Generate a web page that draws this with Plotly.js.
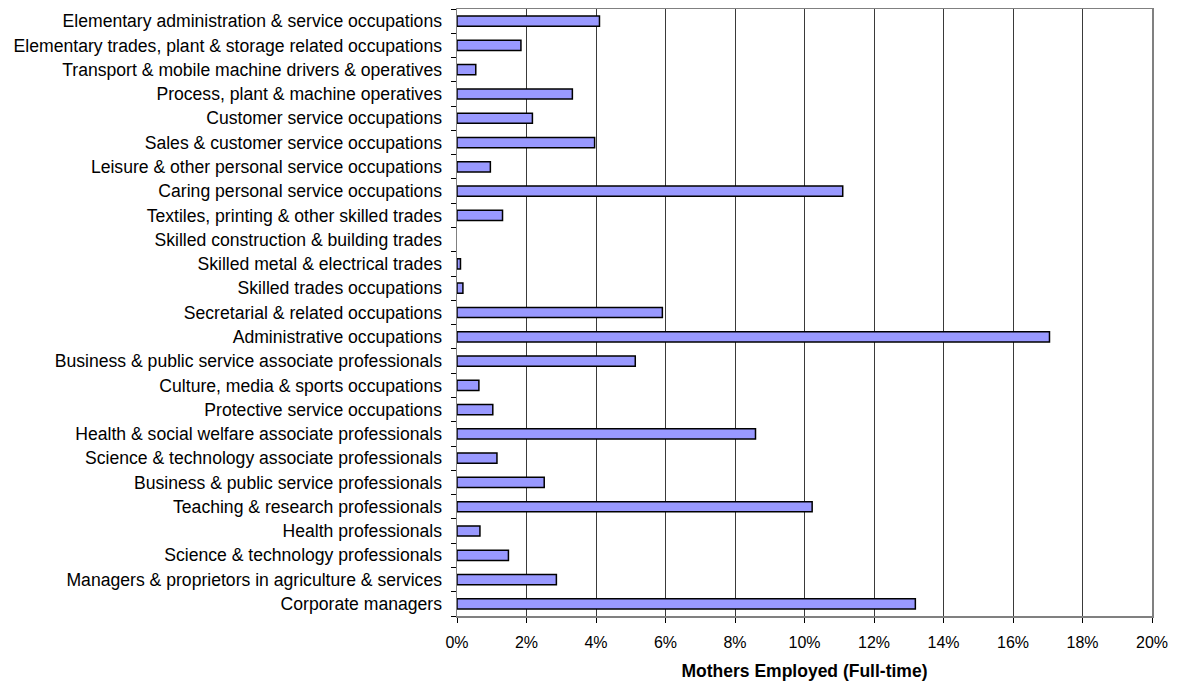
<!DOCTYPE html>
<html>
<head>
<meta charset="utf-8">
<script src="https://cdn.plot.ly/plotly-3.0.1.min.js"></script>
<style>
  html, body { margin: 0; padding: 0; background: #fff; }
  #chart { width: 1181px; height: 683px; }
</style>
</head>
<body>
<div id="chart"></div>
<script>
// Occupation groups, listed from the bottom of the chart upwards
const occupations = [
  "Corporate managers",
  "Managers & proprietors in agriculture & services",
  "Science & technology professionals",
  "Health professionals",
  "Teaching & research professionals",
  "Business & public service professionals",
  "Science & technology associate professionals",
  "Health & social welfare associate professionals",
  "Protective service occupations",
  "Culture, media & sports occupations",
  "Business & public service associate professionals",
  "Administrative occupations",
  "Secretarial & related occupations",
  "Skilled trades occupations",
  "Skilled metal & electrical trades",
  "Skilled construction & building trades",
  "Textiles, printing & other skilled trades",
  "Caring personal service occupations",
  "Leisure & other personal service occupations",
  "Sales & customer service occupations",
  "Customer service occupations",
  "Process, plant & machine operatives",
  "Transport & mobile machine drivers & operatives",
  "Elementary trades, plant & storage related occupations",
  "Elementary administration & service occupations"
];

// Share of full-time employed mothers in each group (fraction)
const shareFullTime = [
  0.1319, 0.0286, 0.0148, 0.0066, 0.1022,
  0.0251, 0.0115, 0.0859, 0.0103, 0.0063,
  0.0513, 0.1705, 0.0591, 0.0017, 0.0010,
  0.0000, 0.0131, 0.1110, 0.0096, 0.0396,
  0.0217, 0.0332, 0.0054, 0.0184, 0.0410
];

const xTickValues = [0, 0.02, 0.04, 0.06, 0.08, 0.10, 0.12, 0.14, 0.16, 0.18, 0.20];
const xTickText = ["0%", "2%", "4%", "6%", "8%", "10%", "12%", "14%", "16%", "18%", "20%"];

// empty categories get no outline so nothing shows at the axis
const outlineWidths = shareFullTime.map(v => (v > 0 ? 1.5 : 0));

const trace = {
  type: "bar",
  orientation: "h",
  y: occupations,
  x: shareFullTime,
  width: 0.42,
  marker: { color: "#9999ff", line: { color: "#000000", width: outlineWidths } },
  hoverinfo: "y+x"
};

const layout = {
  width: 1181,
  height: 683,
  margin: { l: 457, r: 29, t: 9, b: 67, pad: 0 },
  paper_bgcolor: "#ffffff",
  plot_bgcolor: "#ffffff",
  showlegend: false,
  bargap: 0.58,
  font: { family: "Liberation Sans, Arial, sans-serif", size: 16, color: "#000" },
  xaxis: {
    range: [0, 0.20],
    tickvals: xTickValues,
    ticktext: xTickText,
    showgrid: true,
    gridcolor: "#3a3a3a",
    gridwidth: 1,
    zeroline: false,
    showline: true,
    linecolor: "#808080",
    linewidth: 1.5,
    mirror: true,
    ticks: "outside",
    ticklen: 5,
    tickcolor: "#000",
    tickfont: { size: 16 },
    ticklabelstandoff: 6,
    title: {
      text: "<b>Mothers Employed (Full-time)</b>",
      font: { size: 17.5 },
      standoff: 15
    },
    fixedrange: true
  },
  yaxis: {
    type: "category",
    range: [-0.5, occupations.length - 0.5],
    showgrid: false,
    zeroline: false,
    showline: true,
    linecolor: "#808080",
    linewidth: 1.5,
    mirror: true,
    ticks: "outside",
    tickson: "boundaries",
    ticklen: 5,
    tickcolor: "#000",
    tickfont: { size: 17.6 },
    ticklabelstandoff: 10,
    fixedrange: true
  }
};

Plotly.newPlot("chart", [trace], layout, { displayModeBar: false, staticPlot: true });
</script>
</body>
</html>
